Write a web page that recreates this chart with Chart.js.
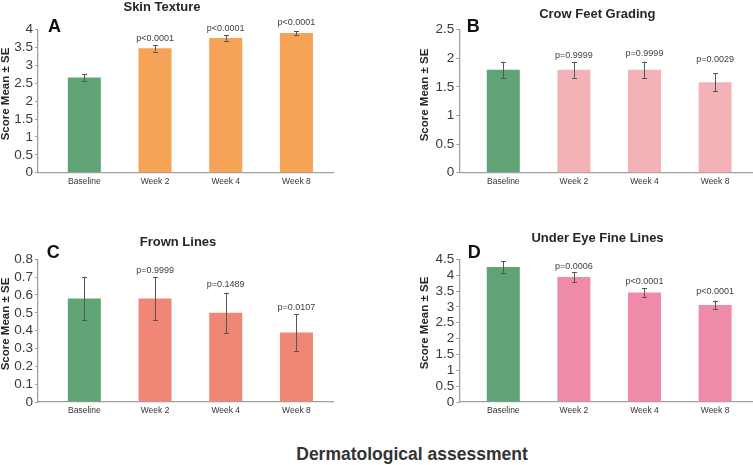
<!DOCTYPE html>
<html><head><meta charset="utf-8">
<script src="https://cdn.jsdelivr.net/npm/chart.js@4/dist/chart.umd.min.js"></script>
<style>
html,body{margin:0;padding:0;background:#fff;width:753px;height:465px;overflow:hidden;}
.panel{position:absolute;}
#foot{position:absolute;left:0;width:824px;top:444px;text-align:center;font:bold 17.5px "Liberation Sans",Arial,sans-serif;color:#333;}
</style></head><body>
<div class="panel" style="left:0;top:0"><canvas id="cA" width="376" height="200"></canvas></div>
<div class="panel" style="left:376px;top:0"><canvas id="cB" width="377" height="200"></canvas></div>
<div class="panel" style="left:0;top:200px"><canvas id="cC" width="376" height="225"></canvas></div>
<div class="panel" style="left:376px;top:200px"><canvas id="cD" width="377" height="225"></canvas></div>
<div id="foot">Dermatological assessment</div>
<script>
// ---- data ----
const categories = ['Baseline', 'Week 2', 'Week 4', 'Week 8'];

const skinTextureMean = [2.66, 3.48, 3.77, 3.91];
const skinTextureSE   = [0.10, 0.09, 0.075, 0.05];
const skinTextureP    = ['', 'p<0.0001', 'p<0.0001', 'p<0.0001'];
const skinTextureTicks = [0, 0.5, 1, 1.5, 2, 2.5, 3, 3.5, 4];

const crowFeetMean = [1.80, 1.80, 1.80, 1.58];
const crowFeetSE   = [0.14, 0.14, 0.14, 0.155];
const crowFeetP    = ['', 'p=0.9999', 'p=0.9999', 'p=0.0029'];
const crowFeetTicks = [0, 0.5, 1, 1.5, 2, 2.5];

const frownLinesMean = [0.58, 0.58, 0.50, 0.39];
const frownLinesSE   = [0.123, 0.12, 0.113, 0.103];
const frownLinesP    = ['', 'p=0.9999', 'p=0.1489', 'p=0.0107'];
const frownLinesTicks = [0, 0.1, 0.2, 0.3, 0.4, 0.5, 0.6, 0.7, 0.8];

const underEyeMean = [4.26, 3.94, 3.45, 3.06];
const underEyeSE   = [0.19, 0.16, 0.13, 0.14];
const underEyeP    = ['', 'p=0.0006', 'p<0.0001', 'p<0.0001'];
const underEyeTicks = [0, 0.5, 1, 1.5, 2, 2.5, 3, 3.5, 4, 4.5];

// ---- styles ----
const FONT = '"Liberation Sans", Arial, Helvetica, sans-serif';
const GREEN = '#60a374';

const panels = [
  {id:'cA', title:'Skin Texture', letter:'A', mean:skinTextureMean, se:skinTextureSE, p:skinTextureP, ticks:skinTextureTicks,
   color:'#f6a257', left:38, right:43, top:29.7, bottom:172.7, xmin:-0.655, xmax:3.517,
   titleX:162, titleY:11, letterX:48, letterY:32, yTitleX:5.5, yTitleY:94, gaps:[0,6.7,6.6,8.3]},
  {id:'cB', title:'Crow Feet Grading', letter:'B', mean:crowFeetMean, se:crowFeetSE, p:crowFeetP, ticks:crowFeetTicks,
   color:'#f3b2b6', left:83.3, right:0, top:29.7, bottom:172.7, xmin:-0.623, xmax:3.537,
   titleX:221.3, titleY:18.3, letterX:90.7, letterY:31.7, yTitleX:49, yTitleY:95, gaps:[0,6,8.3,14.4]},
  {id:'cC', title:'Frown Lines', letter:'C', mean:frownLinesMean, se:frownLinesSE, p:frownLinesP, ticks:frownLinesTicks,
   color:'#f08676', left:38, right:43, top:59.3, bottom:202, xmin:-0.655, xmax:3.517,
   titleX:178, titleY:45.7, letterX:46.7, letterY:58.3, yTitleX:5.5, yTitleY:124, gaps:[0,6.3,8,7]},
  {id:'cD', title:'Under Eye Fine Lines', letter:'D', mean:underEyeMean, se:underEyeSE, p:underEyeP, ticks:underEyeTicks,
   color:'#ef8aa8', left:83.3, right:0, top:59.3, bottom:202, xmin:-0.623, xmax:3.537,
   titleX:221.5, titleY:41.7, letterX:91.7, letterY:58.3, yTitleX:49, yTitleY:123, gaps:[0,5.6,7,9.3]}
];

const annotPlugin = {
  id: 'annot',
  afterDatasetsDraw(chart, args, o) {
    const cfg = o.cfg; if (!cfg) return;
    const {ctx, scales:{x, y}} = chart;
    ctx.save();
    ctx.strokeStyle = '#555';
    ctx.lineWidth = 1;
    cfg.mean.forEach((m, i) => {
      const cx = Math.round(x.getPixelForValue(i)) + 0.5;
      const t = y.getPixelForValue(m + cfg.se[i]);
      const b = y.getPixelForValue(m - cfg.se[i]);
      ctx.beginPath();
      ctx.moveTo(cx, t); ctx.lineTo(cx, b);
      ctx.moveTo(cx - 2.5, Math.round(t) + 0.5); ctx.lineTo(cx + 2.5, Math.round(t) + 0.5);
      ctx.moveTo(cx - 2.5, Math.round(b) + 0.5); ctx.lineTo(cx + 2.5, Math.round(b) + 0.5);
      ctx.stroke();
      if (cfg.p[i]) {
        ctx.fillStyle = '#404040';
        ctx.font = '9px ' + FONT;
        ctx.textAlign = 'center';
        ctx.textBaseline = 'middle';
        ctx.fillText(cfg.p[i], x.getPixelForValue(i), t - cfg.gaps[i]);
      }
    });
    ctx.fillStyle = '#262626';
    ctx.font = 'bold 13px ' + FONT;
    ctx.textAlign = 'center';
    ctx.textBaseline = 'alphabetic';
    ctx.fillText(cfg.title, cfg.titleX, cfg.titleY);
    ctx.fillStyle = '#111';
    ctx.font = 'bold 18px ' + FONT;
    ctx.textAlign = 'left';
    ctx.fillText(cfg.letter, cfg.letterX, cfg.letterY);
    ctx.save();
    ctx.translate(cfg.yTitleX, cfg.yTitleY);
    ctx.rotate(-Math.PI / 2);
    ctx.fillStyle = '#262626';
    ctx.font = 'bold 11.5px ' + FONT;
    ctx.textAlign = 'center';
    ctx.textBaseline = 'middle';
    ctx.fillText('Score Mean \u00b1 SE', 0, 0);
    ctx.restore();
    ctx.restore();
  }
};

panels.forEach(cfg => {
  const canvas = document.getElementById(cfg.id);
  const H = canvas.height;
  new Chart(canvas, {
    type: 'bar',
    data: {
      datasets: [{
        data: cfg.mean.map((v, i) => ({x: i, y: v})),
        backgroundColor: cfg.mean.map((v, i) => i === 0 ? GREEN : cfg.color),
        borderWidth: 0,
        barPercentage: 0.467,
        categoryPercentage: 1
      }]
    },
    options: {
      responsive: false,
      devicePixelRatio: 1,
      animation: false,
      layout: {padding: {top: cfg.top, right: cfg.right, left: 0, bottom: 0}},
      plugins: {legend: {display: false}, tooltip: {enabled: false}, annot: {cfg}},
      scales: {
        x: {
          type: 'linear', offset: false,
          min: cfg.xmin, max: cfg.xmax,
          afterBuildTicks: s => { s.ticks = categories.map((c, i) => ({value: i})); },
          afterFit: s => { s.height = H - cfg.bottom; },
          grid: {display: false, drawTicks: false, offset: false},
          border: {display: true, color: '#a0a0a0', width: 1.3},
          ticks: {
            callback: (v) => categories[v],
            maxRotation: 0, autoSkip: false, padding: 4,
            color: '#333', font: {family: FONT, size: 8.5}
          }
        },
        y: {
          min: cfg.ticks[0], max: cfg.ticks[cfg.ticks.length - 1],
          afterBuildTicks: s => { s.ticks = cfg.ticks.map(v => ({value: v})); },
          afterFit: s => { s.width = cfg.left; },
          grid: {display: true, drawOnChartArea: false, drawTicks: true, tickLength: 3, color: '#a0a0a0'},
          border: {display: true, color: '#a0a0a0', width: 1.3},
          ticks: {
            callback: v => String(v),
            autoSkip: false,
            padding: 2, color: '#3a3a3a', font: {family: FONT, size: 13.5}
          }
        }
      }
    },
    plugins: [annotPlugin]
  });
});
</script>
</body></html>
